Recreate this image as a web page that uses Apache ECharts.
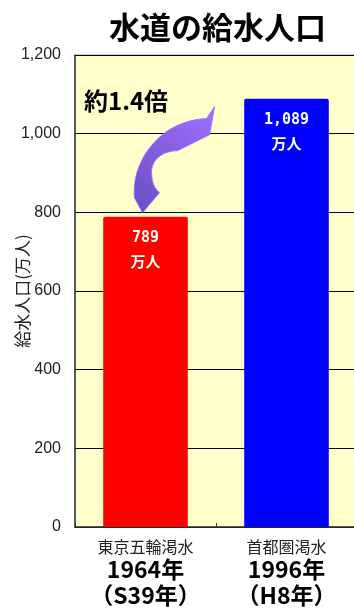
<!DOCTYPE html>
<html>
<head>
<meta charset="utf-8">
<script src="https://cdn.jsdelivr.net/npm/echarts@6/dist/echarts.min.js"></script>
<style>
  html, body { margin: 0; padding: 0; background: #ffffff; }
  #main { width: 354px; height: 608px; }
</style>
</head>
<body>
<div id="main"></div>
<script>
var chartDom = document.getElementById('main');
var myChart = echarts.init(chartDom);

var events = ['東京五輪渇水', '首都圏渇水'];
var years = ['1964年', '1996年'];
var eras = ['（S39年）', '（H8年）'];
var population = [789, 1089];
var barColors = ['#ff0000', '#0000ff'];
var yTicks = [0, 200, 400, 600, 800, 1000, 1200];

var jp = '"Noto Sans CJK JP", sans-serif';

// curved arrow outline, relative to its tail tip
var arrowPath = 'M0,0 L-8,-15 C-10,-35 -2,-60 20,-78 C32,-88 50,-94 64,-94 L72,-106 L67,-78 L35,-62 C22,-62 10,-55 9,-42 C9,-30 12,-24 17,-20 Z';

var option = {
    animation: false,
    backgroundColor: '#ffffff',
    title: {
        text: '水道の給水人口',
        left: 104,
        top: 7,
        textStyle: { fontFamily: jp, fontSize: 31, fontWeight: 'bold', color: '#000000' }
    },
    grid: {
        left: 75,
        right: -3,
        top: 55,
        bottom: 81,
        outerBoundsMode: 'none',
        show: true,
        backgroundColor: '#ffffcc',
        borderColor: '#a0a0a0',
        borderWidth: 1
    },
    graphic: [{
        type: 'text',
        x: 84,
        y: 89,
        style: {
            text: '約1.4倍',
            fontFamily: jp,
            fontSize: 24,
            fontWeight: 'bold',
            fill: '#000000'
        },
        z: 10
    }],
    xAxis: {
        type: 'category',
        data: events,
        axisLine: { lineStyle: { color: '#333333', width: 1.5 } },
        axisTick: { show: true, inside: true, length: 4, lineStyle: { color: '#333333' } },
        axisLabel: {
            margin: 11,
            interval: 0,
            formatter: function (value, idx) {
                return '{a|' + value + '}\n{b|' + years[idx] + '}\n{b|' + eras[idx] + '}';
            },
            rich: {
                a: { fontFamily: jp, fontSize: 16, color: '#222222', lineHeight: 18 },
                b: { fontFamily: jp, fontSize: 23, fontWeight: 'bold', color: '#000000', lineHeight: 26 }
            }
        }
    },
    yAxis: {
        type: 'value',
        min: yTicks[0],
        max: yTicks[yTicks.length - 1],
        interval: 200,
        name: '給水人口(万人)',
        nameLocation: 'middle',
        nameGap: 44,
        nameMoveOverlap: false,
        nameTextStyle: { fontFamily: jp, fontSize: 17, color: '#222222' },
        axisLine: { show: true, lineStyle: { color: '#333333', width: 1.5 } },
        axisTick: { show: false },
        splitLine: { show: true, lineStyle: { color: '#000000', width: 1 } },
        axisLabel: {
            margin: 14,
            fontFamily: '"Liberation Sans", Arial, sans-serif',
            fontSize: 16,
            color: '#222222',
            formatter: function (v) { return v.toLocaleString('en-US'); }
        }
    },
    series: [{
        type: 'bar',
        barWidth: '60%',
        data: population.map(function (v, i) {
            return { value: v, itemStyle: { color: barColors[i], borderRadius: [2, 2, 0, 0] } };
        }),
        label: {
            show: true,
            position: 'insideTop',
            distance: 9,
            formatter: function (p) {
                return '{n|' + p.value.toLocaleString('en-US') + '}\n{u|万人}';
            },
            rich: {
                n: { fontFamily: '"DejaVu Sans Mono", monospace', fontSize: 15, fontWeight: 'bold', color: '#ffffff', lineHeight: 24 },
                u: { fontFamily: jp, fontSize: 15, fontWeight: 'bold', color: '#ffffff', lineHeight: 24 }
            }
        }
    }, {
        // curved arrow from the 1964 bar up toward the 1996 bar
        type: 'custom',
        data: [[0, population[0]]],
        z: 10,
        silent: true,
        renderItem: function (params, api) {
            var p = api.coord([api.value(0), api.value(1)]);
            return {
                type: 'path',
                x: p[0] - 3,
                y: p[1] - 4,
                shape: { pathData: arrowPath },
                style: {
                    fill: {
                        type: 'linear', x: 0, y: 1, x2: 1, y2: 0,
                        colorStops: [
                            { offset: 0, color: '#6a4cc4' },
                            { offset: 1, color: '#a070ff' }
                        ]
                    },
                    stroke: '#9a70ff',
                    lineWidth: 1
                }
            };
        }
    }]
};
myChart.setOption(option);
</script>
</body>
</html>
